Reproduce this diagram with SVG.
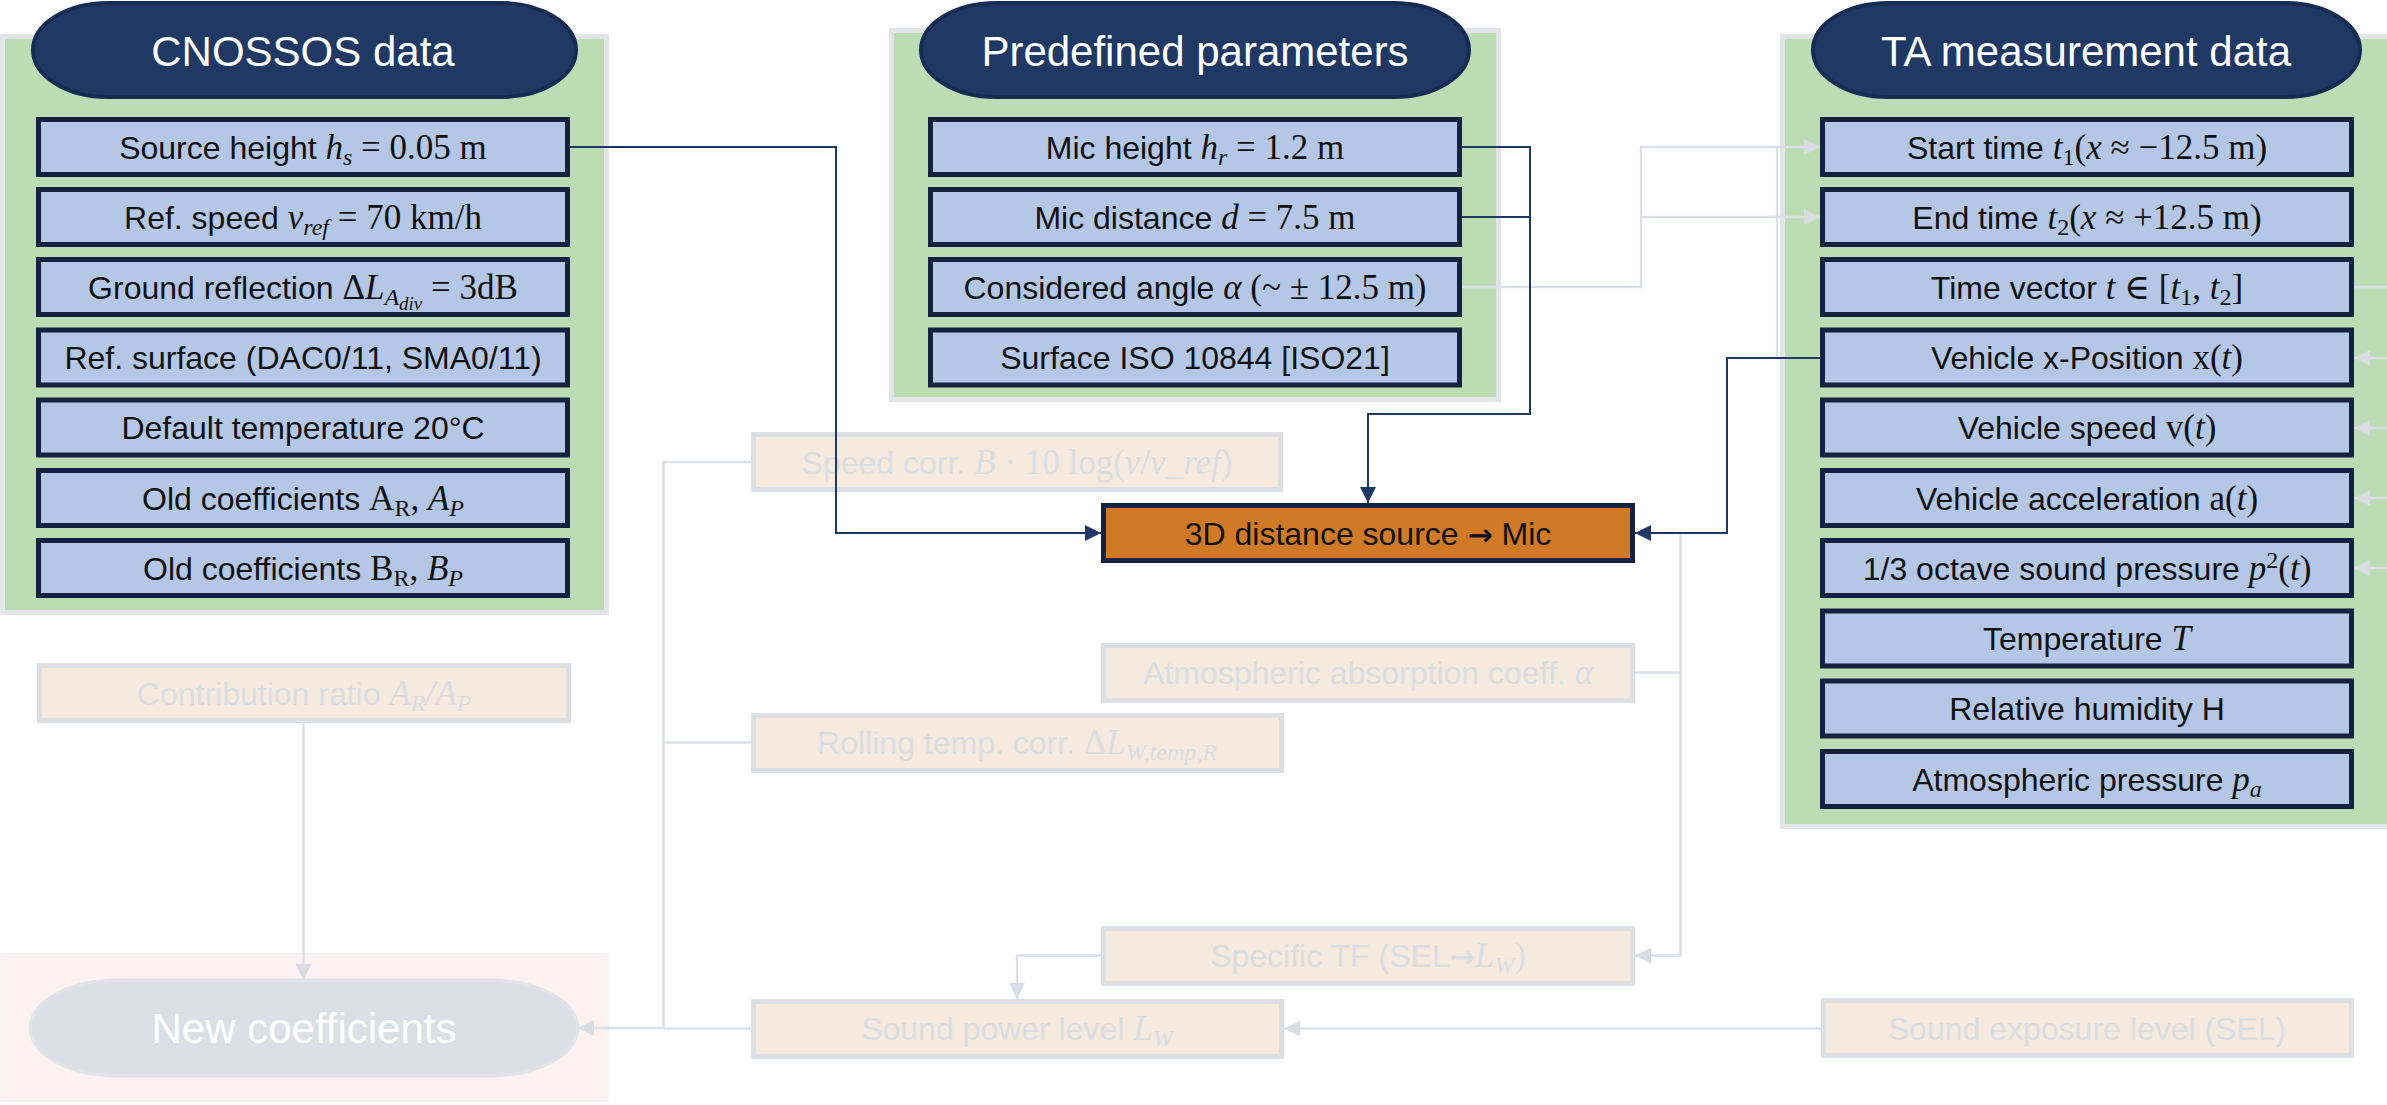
<svg xmlns="http://www.w3.org/2000/svg" width="2387" height="1105" viewBox="0 0 2387 1105">
<style>
.bg{fill:#ffffff}
.panel{fill:#BCDCB3;stroke:#E3E4E7;stroke-width:5}
.pink{fill:#FDF1F1;stroke:#F5F3F4;stroke-width:4}
.hdr{fill:#1F3864;stroke:#172C55;stroke-width:4}
.hdrt{font-family:"Liberation Sans",Arial,sans-serif;font-size:42px;fill:#ffffff;text-anchor:middle}
.box{fill:#B4C7E7;stroke:#14223F;stroke-width:5}
.obox{fill:#D07A27;stroke:#14223F;stroke-width:5}
.fbox{fill:#F6E9DD;stroke:#DCDFE4;stroke-width:5}
.fst{fill:#DCE0E6;stroke:#E1E4E9;stroke-width:3}
.t{font-family:"Liberation Sans",Arial,sans-serif;font-size:32px;fill:#111111;text-anchor:middle}
.ft{font-family:"Liberation Sans",Arial,sans-serif;font-size:32px;fill:#DADEE3;text-anchor:middle}
.nt{font-family:"Liberation Sans",Arial,sans-serif;font-size:42px;fill:#ffffff;text-anchor:middle}
.m{font-family:"Liberation Serif","DejaVu Serif",serif;font-size:35px}
.i{font-style:italic}
.s{font-size:24px}
.ss{font-size:19px}
.ar{font-family:"DejaVu Sans",sans-serif;font-weight:bold;font-size:30px}
.cn{fill:none;stroke:#1F3864;stroke-width:2}
.cg{fill:none;stroke:#DCE0E6;stroke-width:2.5}
</style>
<defs>
<marker id="an" viewBox="0 0 16 16" markerWidth="16" markerHeight="16" refX="16" refY="8" orient="auto" markerUnits="userSpaceOnUse"><path d="M0,0 L16,8 L0,16 z" fill="#1F3864"/></marker>
<marker id="ag" viewBox="0 0 16 16" markerWidth="16" markerHeight="16" refX="16" refY="8" orient="auto" markerUnits="userSpaceOnUse"><path d="M0,0 L16,8 L0,16 z" fill="#D9DDE3"/></marker>
</defs>
<rect class="bg" x="0" y="0" width="2387" height="1105"/>

<!-- Panels -->
<g id="panel-cnossos">
<rect class="panel" x="2.5" y="36.5" width="604" height="576"/>
</g>
<g id="panel-predefined">
<rect class="panel" x="891.5" y="30.5" width="607" height="369"/>
</g>
<g id="panel-ta">
<rect class="panel" x="1782.5" y="36.5" width="700" height="790"/>
</g>
<g id="panel-new">
<rect class="pink" x="2" y="955" width="605" height="145"/>
</g>

<!-- Headers -->
<g id="hdr-cnossos">
<rect class="hdr" x="33" y="3" width="543" height="94" rx="75" ry="47"/>
<text class="hdrt" x="303" y="66">CNOSSOS data</text>
</g>
<g id="hdr-predefined">
<rect class="hdr" x="921" y="3" width="548" height="94" rx="75" ry="47"/>
<text class="hdrt" x="1195" y="66">Predefined parameters</text>
</g>
<g id="hdr-ta">
<rect class="hdr" x="1813" y="3" width="547" height="94" rx="75" ry="47"/>
<text class="hdrt" x="2086" y="66">TA measurement data</text>
</g>

<!-- CNOSSOS boxes -->
<g id="c1"><rect class="box" x="38.5" y="119.5" width="529" height="55"/>
<text class="t" x="303" y="159">Source height <tspan class="m i">h</tspan><tspan class="m i s" dy="6">s</tspan><tspan class="m" dy="-6"> = 0.05 m</tspan></text></g>
<g id="c2"><rect class="box" x="38.5" y="189.5" width="529" height="55"/>
<text class="t" x="303" y="229">Ref. speed <tspan class="m i">v</tspan><tspan class="m i s" dy="6">ref</tspan><tspan class="m" dy="-6"> = 70 km/h</tspan></text></g>
<g id="c3"><rect class="box" x="38.5" y="259.5" width="529" height="55"/>
<text class="t" x="303" y="299">Ground reflection <tspan class="m">Δ</tspan><tspan class="m i">L</tspan><tspan class="m i s" dy="6">A</tspan><tspan class="m i ss" dy="5">div</tspan><tspan class="m" dy="-11"> = 3dB</tspan></text></g>
<g id="c4"><rect class="box" x="38.5" y="330" width="529" height="55"/>
<text class="t" x="303" y="369">Ref. surface (DAC0/11, SMA0/11)</text></g>
<g id="c5"><rect class="box" x="38.5" y="400" width="529" height="55"/>
<text class="t" x="303" y="439">Default temperature 20°C</text></g>
<g id="c6"><rect class="box" x="38.5" y="470.5" width="529" height="55"/>
<text class="t" x="303" y="510">Old coefficients <tspan class="m">A</tspan><tspan class="m s" dy="6">R</tspan><tspan class="m" dy="-6">, </tspan><tspan class="m i">A</tspan><tspan class="m i s" dy="6">P</tspan></text></g>
<g id="c7"><rect class="box" x="38.5" y="540.5" width="529" height="55"/>
<text class="t" x="303" y="580">Old coefficients <tspan class="m">B</tspan><tspan class="m s" dy="6">R</tspan><tspan class="m" dy="-6">, </tspan><tspan class="m i">B</tspan><tspan class="m i s" dy="6">P</tspan></text></g>

<!-- Predefined boxes -->
<g id="p1"><rect class="box" x="930.5" y="119.5" width="529" height="55"/>
<text class="t" x="1195" y="159">Mic height <tspan class="m i">h</tspan><tspan class="m i s" dy="6">r</tspan><tspan class="m" dy="-6"> = 1.2 m</tspan></text></g>
<g id="p2"><rect class="box" x="930.5" y="189.5" width="529" height="55"/>
<text class="t" x="1195" y="229">Mic distance <tspan class="m i">d</tspan><tspan class="m"> = 7.5 m</tspan></text></g>
<g id="p3"><rect class="box" x="930.5" y="259.5" width="529" height="55"/>
<text class="t" x="1195" y="299">Considered angle <tspan class="m i">α</tspan><tspan class="m">  (~ ± 12.5 m)</tspan></text></g>
<g id="p4"><rect class="box" x="930.5" y="330" width="529" height="55"/>
<text class="t" x="1195" y="369">Surface ISO 10844 [ISO21]</text></g>

<!-- TA boxes -->
<g id="ta1"><rect class="box" x="1822.5" y="119.5" width="529" height="55"/>
<text class="t" x="2087" y="159">Start time <tspan class="m i">t</tspan><tspan class="m s" dy="6">1</tspan><tspan class="m" dy="-6">(</tspan><tspan class="m i">x</tspan><tspan class="m"> ≈ −12.5 m)</tspan></text></g>
<g id="ta2"><rect class="box" x="1822.5" y="189.5" width="529" height="55"/>
<text class="t" x="2087" y="229">End time <tspan class="m i">t</tspan><tspan class="m s" dy="6">2</tspan><tspan class="m" dy="-6">(</tspan><tspan class="m i">x</tspan><tspan class="m"> ≈ +12.5 m)</tspan></text></g>
<g id="ta3"><rect class="box" x="1822.5" y="259.5" width="529" height="55"/>
<text class="t" x="2087" y="299">Time vector <tspan class="m i">t</tspan><tspan class="m"> ∈ [</tspan><tspan class="m i">t</tspan><tspan class="m s" dy="6">1</tspan><tspan class="m" dy="-6">, </tspan><tspan class="m i">t</tspan><tspan class="m s" dy="6">2</tspan><tspan class="m" dy="-6">]</tspan></text></g>
<g id="ta4"><rect class="box" x="1822.5" y="330" width="529" height="55"/>
<text class="t" x="2087" y="369">Vehicle x-Position <tspan class="m">x(</tspan><tspan class="m i">t</tspan><tspan class="m">)</tspan></text></g>
<g id="ta5"><rect class="box" x="1822.5" y="400" width="529" height="55"/>
<text class="t" x="2087" y="439">Vehicle speed <tspan class="m">v(</tspan><tspan class="m i">t</tspan><tspan class="m">)</tspan></text></g>
<g id="ta6"><rect class="box" x="1822.5" y="470.5" width="529" height="55"/>
<text class="t" x="2087" y="510">Vehicle acceleration <tspan class="m">a(</tspan><tspan class="m i">t</tspan><tspan class="m">)</tspan></text></g>
<g id="ta7"><rect class="box" x="1822.5" y="540.5" width="529" height="55"/>
<text class="t" x="2087" y="580">1/3 octave sound pressure <tspan class="m i">p</tspan><tspan class="m s" dy="-12">2</tspan><tspan class="m" dy="12">(</tspan><tspan class="m i">t</tspan><tspan class="m">)</tspan></text></g>
<g id="ta8"><rect class="box" x="1822.5" y="611" width="529" height="55"/>
<text class="t" x="2087" y="650">Temperature <tspan class="m i">T</tspan></text></g>
<g id="ta9"><rect class="box" x="1822.5" y="681" width="529" height="55"/>
<text class="t" x="2087" y="720">Relative humidity H</text></g>
<g id="ta10"><rect class="box" x="1822.5" y="751.5" width="529" height="55"/>
<text class="t" x="2087" y="791">Atmospheric pressure <tspan class="m i">p</tspan><tspan class="m i s" dy="6">a</tspan></text></g>

<!-- Orange process box -->
<g id="distance"><rect class="obox" x="1103.5" y="505.5" width="529" height="55"/>
<text class="t" x="1368" y="545">3D distance source <tspan class="ar">→</tspan> Mic</text></g>

<!-- Faded boxes -->
<g id="speedcorr"><rect class="fbox" x="753.5" y="434.5" width="527" height="55"/>
<text class="ft" x="1017" y="474">Speed corr. <tspan class="m i">B</tspan><tspan class="m"> · 10 log(</tspan><tspan class="m i">v</tspan><tspan class="m">/</tspan><tspan class="m i">v_ref</tspan><tspan class="m">)</tspan></text></g>
<g id="contrib"><rect class="fbox" x="39.5" y="665.5" width="529" height="55"/>
<text class="ft" x="304" y="705">Contribution ratio <tspan class="m i">A</tspan><tspan class="m i s" dy="6">R</tspan><tspan class="m i" dy="-6">/A</tspan><tspan class="m i s" dy="6">P</tspan></text></g>
<g id="atmos"><rect class="fbox" x="1103.5" y="645.5" width="529" height="55"/>
<text class="ft" x="1368" y="684">Atmospheric absorption coeff. <tspan class="m i">α</tspan></text></g>
<g id="rolling"><rect class="fbox" x="753.5" y="715.5" width="528" height="55"/>
<text class="ft" x="1017" y="754">Rolling temp. corr. <tspan class="m">Δ</tspan><tspan class="m i">L</tspan><tspan class="m i s" dy="6">W,temp,R</tspan></text></g>
<g id="specifictf"><rect class="fbox" x="1103.5" y="928.5" width="529" height="55"/>
<text class="ft" x="1368" y="967">Specific TF (SEL<tspan class="ar">→</tspan><tspan class="m i">L</tspan><tspan class="m i s" dy="6">W</tspan><tspan class="m" dy="-6">)</tspan></text></g>
<g id="soundpower"><rect class="fbox" x="753.5" y="1001.5" width="528" height="55"/>
<text class="ft" x="1017" y="1040">Sound power level <tspan class="m i">L</tspan><tspan class="m i s" dy="6">W</tspan></text></g>
<g id="sel"><rect class="fbox" x="1823.5" y="1000.5" width="528" height="55"/>
<text class="ft" x="2087" y="1040">Sound exposure level (SEL)</text></g>
<g id="newcoeff"><rect class="fst" x="30" y="980" width="548" height="96" rx="88" ry="48"/>
<text class="nt" x="304" y="1043">New coefficients</text></g>

<!-- Connectors -->
<g id="connectors">
<path class="cg" d="M1462,287 H1641 V147 H1820" marker-end="url(#ag)"/>
<path class="cg" d="M1641,217 H1820" marker-end="url(#ag)"/>
<path class="cg" d="M1777,147 V358"/>
<path class="cg" d="M2354,287 H2387"/>
<path class="cg" d="M2387,358 H2354" marker-end="url(#ag)"/>
<path class="cg" d="M2387,428 H2354" marker-end="url(#ag)"/>
<path class="cg" d="M2387,498 H2354" marker-end="url(#ag)"/>
<path class="cg" d="M2387,568 H2354" marker-end="url(#ag)"/>
<path class="cg" d="M751,462 H663.5 V1028 H578" marker-end="url(#ag)"/>
<path class="cg" d="M751,742.5 H663.5"/>
<path class="cg" d="M751,1028.5 H663.5"/>
<path class="cg" d="M303.5,723 V980" marker-end="url(#ag)"/>
<path class="cg" d="M1635,672.5 H1680.5"/>
<path class="cg" d="M1680.5,534 V955.5 H1635" marker-end="url(#ag)"/>
<path class="cg" d="M1101,955.5 H1017 V999" marker-end="url(#ag)"/>
<path class="cg" d="M1821,1028.5 H1284" marker-end="url(#ag)"/>
<path class="cn" d="M570,147 H836 V533 H1101" marker-end="url(#an)"/>
<path class="cn" d="M1462,147 H1530 V414 H1368 V503" marker-end="url(#an)"/>
<path class="cn" d="M1462,217 H1530"/>
<path class="cn" d="M1820,358 H1727 V533 H1635" marker-end="url(#an)"/>
</g>
</svg>
